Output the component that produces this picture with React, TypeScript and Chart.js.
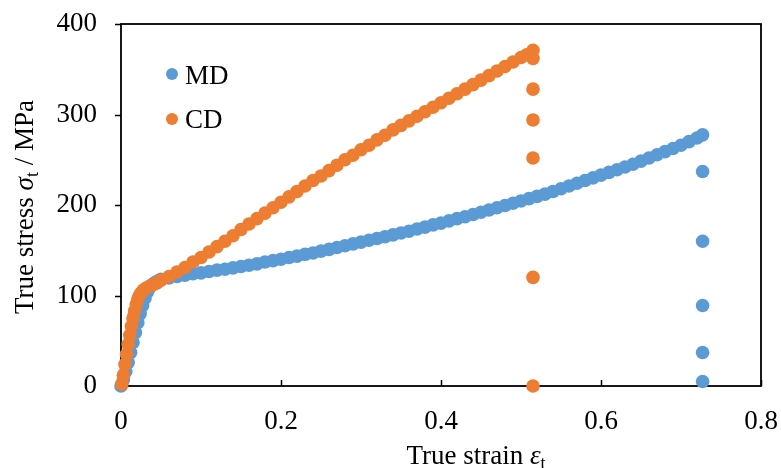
import React, { useEffect, useRef } from "react";
import { Chart, registerables } from "chart.js";

Chart.register(...registerables);

const FONT = '"Liberation Serif", "Times New Roman", serif';

const X_TICK_LABELS = ["0", "0.2", "0.4", "0.6", "0.8"];
const Y_TICK_LABELS = ["0", "100", "200", "300", "400"];

const SERIES_NAMES = ["MD", "CD"];
const SERIES_COLORS = ["#5B9BD5", "#ED7D31"];

const MD_STRAIN = [
  0, 0.003, 0.006, 0.009, 0.012, 0.015, 0.018, 0.021, 0.024, 0.027, 0.03, 0.033, 0.036, 0.039, 0.043, 0.047,
  0.05, 0.06, 0.07, 0.08, 0.09, 0.1, 0.11, 0.12, 0.13, 0.14, 0.15, 0.16, 0.17, 0.18, 0.19, 0.2,
  0.21, 0.22, 0.23, 0.24, 0.25, 0.26, 0.27, 0.28, 0.29, 0.3, 0.31, 0.32, 0.33, 0.34, 0.35, 0.36,
  0.37, 0.38, 0.39, 0.4, 0.41, 0.42, 0.43, 0.44, 0.45, 0.46, 0.47, 0.48, 0.49, 0.5, 0.51, 0.52,
  0.53, 0.54, 0.55, 0.56, 0.57, 0.58, 0.59, 0.6, 0.61, 0.62, 0.63, 0.64, 0.65, 0.66, 0.67, 0.68,
  0.69, 0.7, 0.71, 0.72, 0.727, 0.727, 0.727, 0.727, 0.727, 0.727,
];
const MD_STRESS = [
  0, 7, 16, 26, 37, 48, 59, 70, 80, 89, 97, 104, 109, 112, 114.5, 116.5,
  118, 119.5, 121, 122.5, 124, 125, 126.5, 128, 129, 130.5, 132, 133.5, 135, 137, 138.5, 140,
  142, 143.5, 145.5, 147, 149, 151, 153, 155, 157, 159, 161, 163, 165, 167, 169, 171,
  173.5, 175.5, 178, 180, 182.5, 185, 187, 189.5, 192, 194.5, 197, 199.5, 202, 204.5, 207, 209.5,
  212, 215, 218, 221, 224, 227, 230, 233, 236, 239, 242, 245, 248.5, 252, 255.5, 259,
  262.5, 266, 270, 274, 277.5, 237, 160, 89, 37, 5,
];

const CD_STRAIN = [
  0.001, 0.003, 0.005, 0.007, 0.009, 0.011, 0.013, 0.015, 0.017, 0.019, 0.021, 0.023, 0.025, 0.028, 0.031, 0.035,
  0.04, 0.045, 0.05, 0.06, 0.07, 0.08, 0.09, 0.1, 0.11, 0.12, 0.13, 0.14, 0.15, 0.16, 0.17, 0.18,
  0.19, 0.2, 0.21, 0.22, 0.23, 0.24, 0.25, 0.26, 0.27, 0.28, 0.29, 0.3, 0.31, 0.32, 0.33, 0.34,
  0.35, 0.36, 0.37, 0.38, 0.39, 0.4, 0.41, 0.42, 0.43, 0.44, 0.45, 0.46, 0.47, 0.48, 0.49, 0.5,
  0.507, 0.515, 0.515, 0.515, 0.515, 0.515, 0.515, 0.515,
];
const CD_STRESS = [
  2, 12, 24, 35, 46, 56, 66, 75, 83, 90, 96, 100, 103, 106, 108, 110,
  112, 114, 117, 121, 126, 131, 137, 142, 148, 154, 160, 166, 173, 179, 185, 191,
  197, 203, 209, 215, 221, 227, 232, 238, 244, 250, 255, 261, 266, 272, 277, 283,
  288, 293, 298, 303, 308, 313, 318, 323, 328, 333, 338, 343, 348, 353, 358, 363,
  366, 371, 362, 328, 294, 252, 120, 0,
];

type Seg = { text: string; italic?: boolean; sub?: boolean };

const Y_TITLE: Seg[] = [
  { text: "True stress " },
  { text: "σ", italic: true },
  { text: "t", sub: true },
  { text: " / MPa" },
];
const X_TITLE: Seg[] = [
  { text: "True strain " },
  { text: "ε", italic: true },
  { text: "t", sub: true },
];

const FS = 27;

function segFont(s: Seg) {
  const size = s.sub ? Math.round(FS * 0.65) : FS;
  return `${s.italic ? "italic " : ""}${size}px ${FONT}`;
}

function drawRich(ctx: CanvasRenderingContext2D, segs: Seg[], cx: number, baseline: number) {
  let total = 0;
  const widths = segs.map((s) => {
    ctx.font = segFont(s);
    const w = ctx.measureText(s.text).width;
    total += w;
    return w;
  });
  let x = cx - total / 2;
  ctx.textAlign = "left";
  ctx.textBaseline = "alphabetic";
  segs.forEach((s, i) => {
    ctx.font = segFont(s);
    ctx.fillText(s.text, x, baseline + (s.sub ? 5 : 0));
    x += widths[i];
  });
}

const framePlugin = {
  id: "frameAndTicks",
  beforeDatasetsDraw(chart: any) {
    const { ctx, chartArea } = chart;
    const xs = chart.scales.x;
    const ys = chart.scales.y;
    ctx.save();
    ctx.strokeStyle = "#000";
    ctx.lineWidth = 1.8;
    ctx.strokeRect(chartArea.left, chartArea.top, chartArea.right - chartArea.left, chartArea.bottom - chartArea.top);
    ctx.lineWidth = 1.5;
    ctx.beginPath();
    ys.ticks.forEach((t: any) => {
      const y = Math.round(ys.getPixelForValue(t.value)) + 0.5;
      ctx.moveTo(chartArea.left - 6, y);
      ctx.lineTo(chartArea.left, y);
    });
    xs.ticks.forEach((t: any) => {
      const x = Math.round(xs.getPixelForValue(t.value)) + 0.5;
      ctx.moveTo(x, chartArea.bottom);
      ctx.lineTo(x, chartArea.bottom - 6);
    });
    ctx.stroke();
    ctx.restore();
  },
  afterDraw(chart: any) {
    const { ctx } = chart;
    ctx.save();
    ctx.fillStyle = "#000";
    ctx.save();
    ctx.translate(33, 207);
    ctx.rotate(-Math.PI / 2);
    drawRich(ctx, Y_TITLE, 0, 0);
    ctx.restore();
    drawRich(ctx, X_TITLE, 476, 464);
    const items = [
      { y: 74, base: 84 },
      { y: 119, base: 128 },
    ];
    items.forEach((it, i) => {
      ctx.beginPath();
      ctx.fillStyle = SERIES_COLORS[i];
      ctx.arc(172, it.y, 6, 0, Math.PI * 2);
      ctx.fill();
      ctx.fillStyle = "#000";
      ctx.font = `${FS}px ${FONT}`;
      ctx.textAlign = "left";
      ctx.textBaseline = "alphabetic";
      ctx.fillText(SERIES_NAMES[i], 185, it.base);
    });
    ctx.restore();
  },
};

export default function App() {
  const ref = useRef<HTMLCanvasElement | null>(null);
  useEffect(() => {
    if (!ref.current) return;
    const md = MD_STRAIN.map((x, i) => ({ x, y: MD_STRESS[i] }));
    const cd = CD_STRAIN.map((x, i) => ({ x, y: CD_STRESS[i] }));
    const chart = new Chart(ref.current, {
      type: "scatter",
      data: {
        datasets: [
          {
            label: SERIES_NAMES[0],
            data: md,
            backgroundColor: SERIES_COLORS[0],
            borderColor: SERIES_COLORS[0],
            pointRadius: 6.8,
            pointBorderWidth: 0,
            order: 2,
            clip: false,
          } as any,
          {
            label: SERIES_NAMES[1],
            data: cd,
            backgroundColor: SERIES_COLORS[1],
            borderColor: SERIES_COLORS[1],
            pointRadius: 6.8,
            pointBorderWidth: 0,
            order: 1,
            clip: false,
          } as any,
        ],
      },
      options: {
        responsive: false,
        animation: false,
        devicePixelRatio: 1,
        layout: { padding: { left: 0, right: 20, top: 24, bottom: 0 } },
        plugins: { legend: { display: false }, tooltip: { enabled: false } },
        scales: {
          x: {
            type: "linear",
            min: 0,
            max: 0.8,
            grid: { display: false, drawTicks: false },
            border: { display: false },
            afterFit: (s: any) => {
              s.height = 82;
              s.paddingLeft = 0;
              s.paddingRight = 0;
            },
            ticks: {
              stepSize: 0.2,
              padding: 20,
              color: "#000",
              font: { family: FONT, size: FS },
              maxRotation: 0,
              callback: (_v: any, i: number) => X_TICK_LABELS[i],
            },
          },
          y: {
            type: "linear",
            min: 0,
            max: 400,
            grid: { display: false, drawTicks: false },
            border: { display: false },
            afterFit: (s: any) => {
              s.width = 121;
              s.paddingTop = 0;
              s.paddingBottom = 0;
            },
            ticks: {
              stepSize: 100,
              padding: 24,
              color: "#000",
              font: { family: FONT, size: FS },
              callback: (_v: any, i: number) => Y_TICK_LABELS[i],
            },
          },
        },
      },
      plugins: [framePlugin],
    });
    return () => chart.destroy();
  }, []);
  return (
    <div style={{ position: "fixed", left: 0, top: 0, width: 781, height: 468, background: "#fff" }}>
      <canvas ref={ref} width={781} height={468} style={{ width: 781, height: 468 }} />
    </div>
  );
}
